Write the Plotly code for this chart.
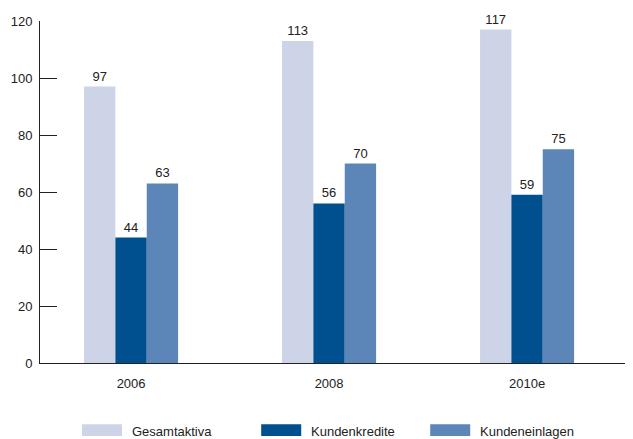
import plotly.graph_objects as go

years = ["2006", "2008", "2010e"]
series_names = ["Gesamtaktiva", "Kundenkredite", "Kundeneinlagen"]
gesamtaktiva = [97, 113, 117]
kundenkredite = [44, 56, 59]
kundeneinlagen = [63, 70, 75]
y_ticks = [0, 20, 40, 60, 80, 100, 120]

colors = ["#CED4E7", "#004F8E", "#5C86B8"]
series_values = [gesamtaktiva, kundenkredite, kundeneinlagen]

FONT = "Liberation Sans, Arial, sans-serif"

fig = go.Figure()
for name, vals, col in zip(series_names, series_values, colors):
    fig.add_trace(go.Bar(
        x=years, y=vals, name=name, marker=dict(color=col, line=dict(width=0)),
        text=[str(v) for v in vals], textposition="outside",
        textfont=dict(family=FONT, size=13, color="#222222"),
        cliponaxis=False, showlegend=False,
    ))

# custom legend (wide swatches as in the reference)
legend_x = [0.0708, 0.373, 0.658]
for name, col, lx in zip(series_names, colors, legend_x):
    fig.add_shape(type="rect", xref="paper", yref="paper",
                  x0=lx, x1=lx + 0.0675, y0=-0.2135, y1=-0.179,
                  fillcolor=col, line=dict(width=0))
    fig.add_annotation(xref="paper", yref="paper", x=lx + 0.081, y=-0.199,
                       text=name, showarrow=False, xanchor="left", yanchor="middle",
                       font=dict(family=FONT, size=13, color="#222222"))

# page body has an 8px margin, so the figure is sized to fill the rest of the window
fig.update_layout(
    width=625, height=431,
    margin=dict(l=32, r=0, t=13, b=75.5, pad=0),
    paper_bgcolor="white", plot_bgcolor="white",
    barmode="group", bargap=0.525, bargroupgap=0,
    font=dict(family=FONT, size=13, color="#222222"),
)
fig.update_xaxes(
    range=[-0.46, 2.535], showline=True, linecolor="#222222", linewidth=1,
    ticks="", showgrid=False, zeroline=False, ticklabelstandoff=8,
    tickfont=dict(family=FONT, size=13, color="#222222"),
)
fig.update_yaxes(
    range=[0, 120], tickvals=y_ticks, showline=True, linecolor="#222222", linewidth=1,
    ticks="inside", ticklen=17, tickcolor="#222222", tickwidth=1,
    showgrid=False, zeroline=False, ticklabelstandoff=4,
    tickfont=dict(family=FONT, size=13, color="#222222"),
)

fig.write_html("out.html")
